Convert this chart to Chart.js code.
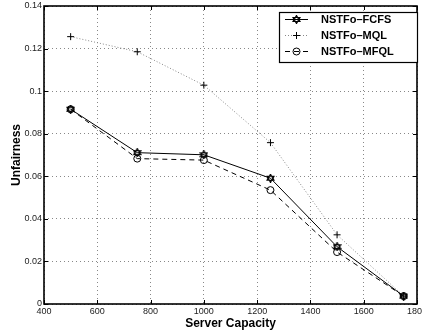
<!DOCTYPE html>
<html>
<head>
<meta charset="utf-8">
<script src="https://cdn.jsdelivr.net/npm/chart.js@4/dist/chart.umd.min.js"></script>
<style>
  html, body { margin: 0; padding: 0; background: #fff; }
  #wrap { width: 422px; height: 332px; position: relative; }
</style>
</head>
<body>
<div id="wrap"><canvas id="chart"></canvas></div>
<script>
// server capacity on x, unfairness on y
var capacity = [500, 750, 1000, 1250, 1500, 1750];
var fcfs = [0.0915, 0.0711, 0.0701, 0.0591, 0.0269, 0.0037];
var mql  = [0.1256, 0.1185, 0.1028, 0.0758, 0.0325, 0.0037];
var mfql = [0.0915, 0.0683, 0.0676, 0.0535, 0.0244, 0.0037];

var seriesNames = ['NSTFo\u2013FCFS', 'NSTFo\u2013MQL', 'NSTFo\u2013MFQL'];
var xTicks = [400, 600, 800, 1000, 1200, 1400, 1600, 1800];
var yTicks = [0, 0.02, 0.04, 0.06, 0.08, 0.1, 0.12, 0.14];

var FONT = '"Liberation Sans", Arial, Helvetica, sans-serif';

// hexagram marker (two triangles), like matlab 'h'
function hexagram(size) {
  var c = document.createElement('canvas');
  c.width = size; c.height = size;
  var g = c.getContext('2d');
  var cx = size / 2, cy = size / 2, r = size / 2 - 0.5;
  g.strokeStyle = '#000';
  g.lineWidth = 1.2;
  [-Math.PI / 2, Math.PI / 2].forEach(function (a0) {
    g.beginPath();
    for (var k = 0; k < 3; k++) {
      var a = a0 + k * 2 * Math.PI / 3;
      var px = cx + r * Math.cos(a), py = cy + r * Math.sin(a);
      if (k === 0) g.moveTo(px, py); else g.lineTo(px, py);
    }
    g.closePath();
    g.stroke();
  });
  return c;
}
var hexImg = hexagram(9);

function pts(ys) {
  return capacity.map(function (x, i) { return { x: x, y: ys[i] }; });
}

// frame with inward ticks, matlab style
var framePlugin = {
  id: 'frame',
  afterDraw: function (chart) {
    var ctx = chart.ctx, a = chart.chartArea;
    var sx = chart.scales.x, sy = chart.scales.y;
    ctx.save();
    ctx.strokeStyle = '#000';
    ctx.lineWidth = 1;
    ctx.beginPath();
    xTicks.forEach(function (v) {
      var px = Math.round(sx.getPixelForValue(v)) + 0.5;
      ctx.moveTo(px, a.bottom); ctx.lineTo(px, a.bottom - 4);
      ctx.moveTo(px, a.top); ctx.lineTo(px, a.top + 4);
    });
    yTicks.forEach(function (v) {
      var py = Math.round(sy.getPixelForValue(v)) + 0.5;
      ctx.moveTo(a.left, py); ctx.lineTo(a.left + 4, py);
      ctx.moveTo(a.right, py); ctx.lineTo(a.right - 4, py);
    });
    ctx.stroke();
    ctx.lineWidth = 1.6;
    ctx.strokeRect(a.left, a.top, a.right - a.left, a.bottom - a.top);
    ctx.restore();
  }
};

// boxed legend in the top right corner
var legendPlugin = {
  id: 'boxLegend',
  afterDraw: function (chart) {
    var ctx = chart.ctx;
    var x0 = 279, y0 = 12, w = 138, h = 50;
    ctx.save();
    ctx.fillStyle = '#fff';
    ctx.fillRect(x0, y0, w, h);
    ctx.strokeStyle = '#000';
    ctx.lineWidth = 1.2;
    ctx.strokeRect(x0 + 0.5, y0 + 0.5, w, h);
    var rows = [19, 35, 51];
    chart.data.datasets.forEach(function (ds, i) {
      var y = rows[i] + 0.5;
      ctx.strokeStyle = ds.borderColor;
      ctx.lineWidth = 1;
      ctx.setLineDash(ds.borderDash || []);
      ctx.beginPath();
      ctx.moveTo(285, y); ctx.lineTo(308, y);
      ctx.stroke();
      ctx.setLineDash([]);
      ctx.strokeStyle = '#000';
      ctx.fillStyle = 'rgba(0,0,0,0)';
      Chart.helpers.drawPoint(ctx, {
        pointStyle: ds.pointStyle, radius: ds.pointRadius, borderWidth: 1,
        rotation: 0
      }, 296.5, y);
      ctx.fillStyle = '#000';
      ctx.font = 'bold 11px ' + FONT;
      ctx.textBaseline = 'middle';
      ctx.textAlign = 'left';
      ctx.fillText(ds.label, 321, rows[i] + 1);
    });
    ctx.restore();
  }
};

new Chart(document.getElementById('chart'), {
  type: 'line',
  data: {
    datasets: [
      {
        label: seriesNames[0], data: pts(fcfs),
        borderColor: '#000', borderWidth: 1,
        pointStyle: hexImg, pointRadius: 4,
        pointBorderColor: '#000', pointBackgroundColor: 'rgba(0,0,0,0)'
      },
      {
        label: seriesNames[1], data: pts(mql),
        borderColor: '#888', borderWidth: 1, borderDash: [1, 2],
        pointStyle: 'cross', pointRadius: 3.5, pointBorderWidth: 1,
        pointBorderColor: '#000', pointBackgroundColor: 'rgba(0,0,0,0)'
      },
      {
        label: seriesNames[2], data: pts(mfql),
        borderColor: '#000', borderWidth: 1, borderDash: [5, 4],
        pointStyle: 'circle', pointRadius: 3.5, pointBorderWidth: 1,
        pointBorderColor: '#000', pointBackgroundColor: 'rgba(0,0,0,0)'
      }
    ]
  },
  options: {
    responsive: true,
    maintainAspectRatio: false,
    animation: false,
    events: [],
    layout: { padding: { top: 6, right: 2, left: 0, bottom: 0 } },
    plugins: { legend: { display: false }, tooltip: { enabled: false } },
    scales: {
      x: {
        type: 'linear', min: 400, max: 1800,
        afterBuildTicks: function (s) { s.ticks = xTicks.map(function (v) { return { value: v }; }); },
        afterFit: function (s) { s.height = 28; s.paddingLeft = 0; s.paddingRight = 0; },
        grid: { color: '#888', lineWidth: 1, drawTicks: false },
        border: { display: false, dash: [1, 3] },
        ticks: {
          color: '#222', padding: 2, maxRotation: 0, autoSkip: false,
          font: { family: FONT, size: 9 },
          callback: function (v) { return String(v); }
        },
        title: {
          display: true, text: 'Server Capacity', color: '#000',
          font: { family: FONT, size: 12, weight: 'bold' },
          padding: { top: 0, bottom: 1 }
        }
      },
      y: {
        type: 'linear', min: 0, max: 0.14,
        afterBuildTicks: function (s) { s.ticks = yTicks.map(function (v) { return { value: v }; }); },
        afterFit: function (s) { s.width = 44; s.paddingTop = 0; s.paddingBottom = 0; },
        grid: { color: '#888', lineWidth: 1, drawTicks: false },
        border: { display: false, dash: [1, 3] },
        ticks: {
          color: '#222', padding: 2, autoSkip: false,
          font: { family: FONT, size: 9 },
          callback: function (v) { return String(v); }
        },
        title: {
          display: true, text: 'Unfairness', color: '#000',
          font: { family: FONT, size: 12, weight: 'bold' },
          padding: { top: 9, bottom: 0 }
        }
      }
    }
  },
  plugins: [framePlugin, legendPlugin]
});
</script>
</body>
</html>
